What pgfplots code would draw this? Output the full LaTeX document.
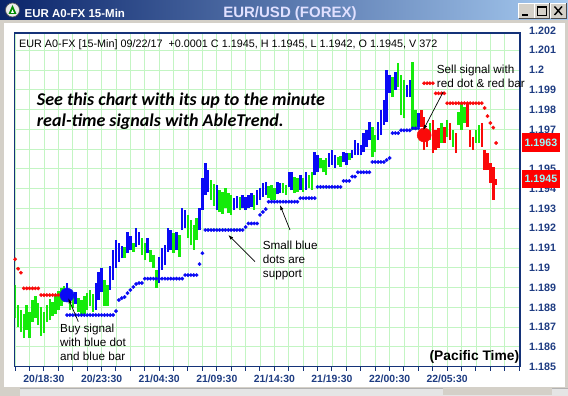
\documentclass[border=0pt]{standalone}
\usepackage{fontspec}
\setmainfont{Liberation Sans}
\newfontfamily\carlito{Carlito}
\usepackage{pgfplots}
\pgfplotsset{compat=1.18}
\usepackage{pgfplotstable}
\usetikzlibrary{arrows.meta}
\newcommand\fs[1]{\fontsize{#1pt}{#1pt}\selectfont}
\definecolor{barg}{RGB}{20,235,10}
\definecolor{barb}{RGB}{10,10,245}
\definecolor{barr}{RGB}{250,10,10}
\definecolor{gridc}{RGB}{195,245,195}
\definecolor{framec}{RGB}{20,50,120}
\definecolor{tickc}{RGB}{30,60,130}
\definecolor{winc}{RGB}{212,208,200}
\definecolor{tbl}{RGB}{10,36,106}
\definecolor{tbr}{RGB}{166,202,240}
\definecolor{boxtxt}{RGB}{150,255,255}

\pgfplotstableread{
b hi lo
-10 1.18913 1.18746
-9 1.18812 1.18700
-8 1.18787 1.18675
-7 1.18766 1.18645
-6 1.18812 1.18685
-5 1.18776 1.18645
-4 1.18837 1.18726
-3 1.18857 1.18746
-2 1.18822 1.18711
-1 1.18802 1.18655
0 1.18776 1.18670
1 1.18812 1.18726
2 1.18842 1.18736
3 1.18827 1.18756
4 1.18857 1.18766
5 1.18883 1.18787
6 1.18898 1.18807
7 1.18908 1.18827
9 1.18857 1.18787
10 1.18867 1.18797
12 1.18847 1.18776
13 1.18837 1.18756
14 1.18857 1.18766
15 1.18872 1.18787
16 1.18888 1.18807
17 1.18867 1.18776
21 1.18938 1.18807
22 1.18913 1.18807
28 1.19105 1.19049
31 1.19125 1.19080
34 1.19150 1.19064
35 1.19125 1.19039
37 1.19090 1.19029
38 1.19064 1.18999
39 1.18989 1.18898
45 1.19176 1.19074
47 1.19166 1.19054
50 1.19267 1.19150
51 1.19242 1.19115
52 1.19216 1.19090
53 1.19252 1.19140
58 1.19444 1.19343
59 1.19424 1.19312
61 1.19393 1.19282
62 1.19383 1.19272
63 1.19404 1.19302
64 1.19378 1.19277
65 1.19368 1.19267
68 1.19358 1.19292
73 1.19368 1.19292
78 1.19414 1.19353
79 1.19419 1.19343
80 1.19404 1.19343
83 1.19429 1.19378
84 1.19419 1.19368
87 1.19459 1.19378
88 1.19454 1.19383
90 1.19454 1.19383
92 1.19469 1.19404
93 1.19484 1.19393
96 1.19555 1.19505
97 1.19545 1.19484
98 1.19555 1.19469
102 1.19560 1.19520
103 1.19565 1.19510
106 1.19580 1.19545
114 1.19712 1.19560
115 1.19671 1.19585
121 1.19965 1.19863
123 1.20035 1.19914
124 1.19975 1.19772
125 1.19949 1.19757
128 1.20040 1.19697
129 1.19798 1.19697
134 1.19732 1.19646
138 1.19732 1.19631
140 1.19747 1.19661
142 1.19697 1.19611
144 1.19788 1.19722
145 1.19833 1.19697
146 1.19813 1.19732
150 1.19697 1.19631
151 1.19722 1.19631
}\barsgreen

\pgfplotstableread{
b hi lo
8 1.18923 1.18827
11 1.18878 1.18817
18 1.18923 1.18787
19 1.18979 1.18837
20 1.18999 1.18878
23 1.19009 1.18888
24 1.19090 1.18938
25 1.19140 1.18999
26 1.19125 1.19029
27 1.19110 1.19049
29 1.19181 1.19074
30 1.19160 1.19090
32 1.19201 1.19105
33 1.19181 1.19115
36 1.19150 1.19074
40 1.19054 1.18923
41 1.19100 1.18989
42 1.19115 1.19014
43 1.19201 1.19080
44 1.19191 1.19090
46 1.19181 1.19090
48 1.19302 1.19191
49 1.19292 1.19201
54 1.19302 1.19191
55 1.19454 1.19292
56 1.19530 1.19368
57 1.19494 1.19383
60 1.19419 1.19292
66 1.19353 1.19292
67 1.19363 1.19302
69 1.19368 1.19302
70 1.19358 1.19292
71 1.19368 1.19302
72 1.19378 1.19307
74 1.19393 1.19317
75 1.19404 1.19343
76 1.19429 1.19358
77 1.19434 1.19368
81 1.19434 1.19373
82 1.19429 1.19378
85 1.19484 1.19409
86 1.19484 1.19393
89 1.19469 1.19393
91 1.19484 1.19393
94 1.19585 1.19469
95 1.19570 1.19484
99 1.19580 1.19510
100 1.19596 1.19520
101 1.19570 1.19505
104 1.19585 1.19535
105 1.19580 1.19520
107 1.19596 1.19555
108 1.19646 1.19570
109 1.19631 1.19570
110 1.19621 1.19570
111 1.19681 1.19585
112 1.19697 1.19611
113 1.19737 1.19646
116 1.19737 1.19646
117 1.19798 1.19671
118 1.19848 1.19722
119 1.20000 1.19737
120 1.19975 1.19884
122 1.19990 1.19899
126 1.19924 1.19863
127 1.19949 1.19863
130 1.19783 1.19712
}\barsblue

\pgfplotstableread{
b hi lo
131 1.19798 1.19712
132 1.19762 1.19596
133 1.19697 1.19611
135 1.19747 1.19580
136 1.19697 1.19596
137 1.19707 1.19606
139 1.19712 1.19631
141 1.19732 1.19646
143 1.19681 1.19580
147 1.19833 1.19712
148 1.19697 1.19611
149 1.19661 1.19596
152 1.19732 1.19611
153 1.19596 1.19494
154 1.19580 1.19494
155 1.19530 1.19429
156 1.19510 1.19343
157 1.19449 1.19419
}\barsred

\pgfplotstableread{
b p
8 1.18761
9 1.18761
10 1.18761
11 1.18761
12 1.18761
13 1.18761
14 1.18761
15 1.18761
16 1.18761
17 1.18761
18 1.18761
19 1.18761
20 1.18761
21 1.18761
22 1.18761
23 1.18761
24 1.18761
25 1.18781
26 1.18837
27 1.18847
28 1.18852
29 1.18872
30 1.18888
31 1.18903
32 1.18918
33 1.18923
34 1.18923
35 1.18945
36 1.18945
37 1.18945
38 1.18945
39 1.18945
40 1.18945
41 1.18945
42 1.18945
43 1.18945
44 1.18945
45 1.18945
46 1.18945
47 1.18945
48 1.18945
49 1.18963
50 1.18963
51 1.18963
52 1.18963
53 1.18963
54 1.19019
55 1.19074
56 1.19191
57 1.19191
58 1.19191
59 1.19191
60 1.19191
61 1.19191
62 1.19191
63 1.19191
64 1.19191
65 1.19191
66 1.19191
67 1.19191
68 1.19191
69 1.19191
70 1.19206
71 1.19224
72 1.19224
73 1.19224
74 1.19224
75 1.19267
76 1.19282
77 1.19297
78 1.19334
79 1.19334
80 1.19334
81 1.19334
82 1.19334
83 1.19334
84 1.19334
85 1.19334
86 1.19334
87 1.19334
88 1.19334
89 1.19352
90 1.19352
91 1.19352
92 1.19352
93 1.19352
94 1.19352
95 1.19409
96 1.19409
97 1.19409
98 1.19409
99 1.19409
100 1.19409
101 1.19409
102 1.19409
103 1.19409
104 1.19439
105 1.19439
106 1.19439
107 1.19461
108 1.19461
109 1.19483
110 1.19483
111 1.19483
112 1.19483
113 1.19483
114 1.19535
115 1.19535
116 1.19535
117 1.19535
118 1.19535
119 1.19545
120 1.19555
121 1.19681
122 1.19681
123 1.19681
124 1.19695
125 1.19695
126 1.19695
127 1.19695
128 1.19705
129 1.19705
130 1.19705
}\dotsblue

\pgfplotstableread{
b p
-10 1.19043
-9 1.18995
-8 1.18975
-7 1.18896
-6 1.18896
-5 1.18896
-4 1.18896
-3 1.18896
-2 1.18896
-1 1.18862
0 1.18862
1 1.18862
2 1.18862
3 1.18862
4 1.18862
5 1.18862
6 1.18862
132 1.19933
133 1.19933
134 1.19933
135 1.19933
136 1.19882
137 1.19882
138 1.19882
139 1.19882
140 1.19832
141 1.19832
142 1.19832
143 1.19832
144 1.19832
145 1.19832
146 1.19832
147 1.19832
148 1.19832
149 1.19832
150 1.19832
151 1.19832
152 1.19832
153 1.19808
154 1.19767
155 1.19732
156 1.19709
157 1.19631
}\dotsred

\begin{document}
\begin{tikzpicture}
% window chrome
\fill[winc] (0,0) rectangle (568pt,396pt);
\fill[white] (4pt,9pt) rectangle (565pt,373pt);
\fill[gray!20] (0pt,0pt) rectangle (568pt,8pt);
\draw[gray!60] (0pt,8pt) -- (568pt,8pt);
\fill[winc] (0pt,0pt) rectangle (20pt,8pt);
\fill[winc] (443pt,0.5pt) rectangle (552pt,7.5pt);
\shade[left color=tbl, right color=tbr] (0pt,376pt) rectangle (568pt,396pt);
% icon
\fill[white!85!gray] (12.5pt,386pt) circle (7pt);
\draw[gray!70!black, line width=0.6pt] (12.5pt,386pt) circle (7pt);
\fill[green!55!black] (8.5pt,382pt) -- (16.5pt,382pt) -- (12.5pt,391pt) -- cycle;
\fill[white] (11pt,383pt) -- (14pt,383pt) -- (12.5pt,386.5pt) -- cycle;
\node[anchor=base west, inner sep=0pt, text=white, font=\bfseries\fs{11.5}] at (24.5pt,378.6pt) {EUR A0-FX 15-Min};
\node[anchor=base, inner sep=0pt, text=white!88!blue, font=\bfseries\fs{15}] at (290pt,378pt) {EUR/USD (FOREX)};
% buttons
\foreach \xa/\xb in {518.5/534, 534/549.5, 550.5/566}{
  \fill[winc] (\xa pt,378pt) rectangle (\xb pt,392.5pt);
  \draw[white] (\xa pt,378pt) -- (\xa pt,392.5pt) -- (\xb pt,392.5pt);
  \draw[black!70] (\xa pt,378pt) -- (\xb pt,378pt) -- (\xb pt,392.5pt);
}
\draw[black, line width=1.6pt] (522pt,381pt) -- (528pt,381pt);
\draw[black, line width=0.8pt] (537.5pt,381pt) rectangle (546pt,389.5pt);
\draw[black, line width=1.8pt] (537.5pt,388.8pt) -- (546pt,388.8pt);
\draw[black, line width=1.4pt] (554.5pt,381pt) -- (562pt,389.5pt) (554.5pt,389.5pt) -- (562pt,381pt);

\begin{axis}[
  at={(14.7pt,29.3pt)}, anchor=south west,
  scale only axis, width=505.3pt, height=333.7pt,
  xmin=-10.17, xmax=165.28, ymin=1.185, ymax=1.20187,
  axis background/.style={fill=white},
  axis line style={draw=framec, line width=1.5pt},
  xtick={0,20,40,60,80,100,120,140},
  xticklabels={20/18:30,20/23:30,21/04:30,21/09:30,21/14:30,21/19:30,22/00:30,22/05:30},
  minor xtick={-10,-5,...,165},
  ytick={1.185,1.186,1.187,1.188,1.189,1.19,1.191,1.192,1.193,1.194,1.195,1.196,1.197,1.198,1.199,1.2,1.201},
  yticklabels={1.185,1.186,1.187,1.188,1.189,1.19,1.191,1.192,1.193,1.194,1.195,{},1.197,1.198,1.199,1.2,1.201},
  xtick pos=left, ytick pos=right, yticklabel pos=right,
  grid=both,
  major grid style={draw=gridc, line width=0.9pt},
  minor grid style={draw=gridc, line width=0.9pt},
  tick align=outside,
  major tick length=4pt, minor tick length=4pt,
  xtick style={draw=framec, line width=1pt},
  ytick style={draw=none},
  xticklabel style={font=\bfseries\fs{10.4}, text=tickc, inner sep=0pt, yshift=-4pt},
  yticklabel style={font=\bfseries\fs{10.7}, text=tickc, inner sep=0pt, anchor=west, xshift=5pt},
  clip=true,
]
\addplot[barg, line width=2.5pt, quiver={u=0, v=\thisrow{hi}-\thisrow{lo}}] table[x=b, y=lo] {\barsgreen};
\addplot[barb, line width=2.5pt, quiver={u=0, v=\thisrow{hi}-\thisrow{lo}}] table[x=b, y=lo] {\barsblue};
\addplot[barr, line width=2.5pt, quiver={u=0, v=\thisrow{hi}-\thisrow{lo}}] table[x=b, y=lo] {\barsred};
\addplot[barb, only marks, mark=*, mark size=1.75pt, mark options={draw=barb, fill=barb, line width=0.3pt}] table[x=b, y=p] {\dotsblue};
\addplot[barr, only marks, mark=*, mark size=1.75pt, mark options={draw=barr, fill=barr, line width=0.3pt}] table[x=b, y=p] {\dotsred};
\addplot[barb, only marks, mark=*, mark size=7pt, mark options={draw=barb, fill=barb}] coordinates {(8,1.18862)};
\addplot[barr, only marks, mark=*, mark size=7pt, mark options={draw=barr, fill=barr}] coordinates {(132,1.19671)};
\end{axis}

% extra y label
\node[anchor=west, inner sep=0pt, text=tickc, font=\bfseries\fs{10.7}] at (529pt,365.4pt) {1.202};
% header
\node[anchor=base west, inner sep=0pt, font=\fs{10.8}] at (19pt,348.7pt) {EUR A0-FX [15-Min] 09/22/17\ \ +0.0001 C 1.1945, H 1.1945, L 1.1942, O 1.1945, V 372};
% italic text
\node[anchor=base west, inner sep=0pt, font=\carlito\bfseries\itshape\fs{18}] at (36.7pt,290pt) {See this chart with its up to the minute};
\node[anchor=base west, inner sep=0pt, font=\carlito\bfseries\itshape\fs{18}] at (36.7pt,269.3pt) {real-time signals with AbleTrend.};
% buy annotation
\node[anchor=base west, inner sep=0pt, font=\fs{11.7}] at (60pt,63.6pt) {Buy signal};
\node[anchor=base west, inner sep=0pt, font=\fs{11.7}] at (60pt,49.4pt) {with blue dot};
\node[anchor=base west, inner sep=0pt, font=\fs{11.7}] at (60pt,35.6pt) {and blue bar};
\draw[black, line width=0.7pt, -{Latex[length=5pt,width=3.5pt]}] (78.3pt,74.3pt) -- (68.3pt,97.7pt);
% support annotation
\node[anchor=base west, inner sep=0pt, font=\fs{11.7}] at (262.7pt,146.7pt) {Small blue};
\node[anchor=base west, inner sep=0pt, font=\fs{11.7}] at (262.7pt,132.4pt) {dots are};
\node[anchor=base west, inner sep=0pt, font=\fs{11.7}] at (262.7pt,118.1pt) {support};
\draw[black, line width=0.7pt, -{Latex[length=5pt,width=3.5pt]}] (255pt,134.3pt) -- (228.3pt,161pt);
\draw[black, line width=0.7pt, -{Latex[length=5pt,width=3.5pt]}] (290pt,166pt) -- (280pt,191pt);
% sell annotation
\node[anchor=base west, inner sep=0pt, font=\fs{11.7}] at (436.7pt,322pt) {Sell signal with};
\node[anchor=base west, inner sep=0pt, font=\fs{11.7}] at (436.7pt,308pt) {red dot \& red bar};
\draw[black, line width=0.7pt, -{Latex[length=5pt,width=3.5pt]}] (443.3pt,304.3pt) -- (423.3pt,266pt);
% pacific time
\node[anchor=base east, inner sep=0pt, font=\bfseries\fs{13.8}] at (519.3pt,35.3pt) {(Pacific Time)};
% price boxes
\fill[red] (521.7pt,244.3pt) rectangle (560pt,263pt);
\node[inner sep=0pt, text=boxtxt, font=\bfseries\fs{10.7}] at (540.9pt,253.6pt) {1.1963};
\fill[red] (521.7pt,208pt) rectangle (560pt,226pt);
\node[inner sep=0pt, text=boxtxt, font=\bfseries\fs{10.7}] at (540.9pt,217pt) {1.1945};

\pgfresetboundingbox
\path[use as bounding box] (0,0) rectangle (568pt,396pt);
\end{tikzpicture}
\end{document}
